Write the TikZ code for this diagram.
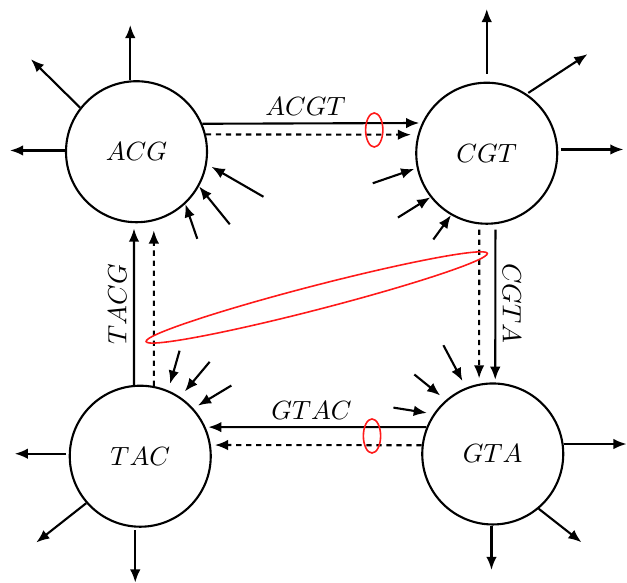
\documentclass[tikz,border=0pt]{standalone}
\usepackage{amsmath}
\usepackage{amssymb}
\usepackage{tikz}
\usetikzlibrary{arrows.meta}

\tikzset{
	kmer/.style={circle, draw, minimum size=1.88cm, inner sep=0pt},
	dashedge/.style={dash pattern=on 2pt off 1.8pt},
	seqlabel/.style={inner sep=2.5pt},
	ring/.style={draw=red!90!white, semithick}
}

\begin{document}
\begin{tikzpicture}[thick, >={Latex[length=5pt,width=4pt]}]
			\useasboundingbox (0,0) rectangle (8.36,7.773);
			\node[kmer] (acg) at (1.82,5.75) {$ACG$};
			\node[kmer] (cgt) at (6.49,5.73) {$CGT$};
			\node[kmer] (tac) at (1.87,1.69) {$TAC$};
			\node[kmer] (gta) at (6.57,1.72) {$GTA$};
			\draw[->, shorten >=1pt] (acg.23) -- (cgt.155) node[seqlabel, pos=0.47, above] {$ACGT$};
			\draw[->, dashedge, shorten >=2.5pt] (acg.14) -- (cgt.165);
			\draw[->, shorten <=2pt, shorten >=1pt] (cgt.277) -- (gta.88) node[seqlabel, midway, anchor=south, rotate=-90] {$CGTA$};
			\draw[->, dashedge, shorten <=2pt, shorten >=2pt] (cgt.264) -- (gta.101);
			\draw[->, shorten >=1pt] (gta.158) -- (tac.24) node[seqlabel, pos=0.52, above] {$GTAC$};
			\draw[->, dashedge, shorten >=1.5pt] (gta.173) -- (tac.9);
			\draw[->, shorten >=2pt] (tac.95) -- (acg.268) node[seqlabel, midway, anchor=south, rotate=90] {$TACG$};
			\draw[->, dashedge, shorten >=3.5pt] (tac.79) -- (acg.284);
			\draw[->] (acg.95) -- ++(0,0.74);
			\draw[->] (acg.142) -- ++(-0.656,0.647);
			\draw[->] (acg.179) -- ++(-0.733,0);
			\draw[<-, shorten <=2pt] (acg.350) -- ++(-30:0.87);
			\draw[<-] (acg.331) -- ++(-51:0.65);
			\draw[<-] (acg.313) -- ++(-71:0.49);
			\draw[->, shorten <=3pt] (cgt.90) -- ++(0,0.97);
			\draw[->, shorten <=0.7pt] (cgt.56) -- ++(0.81,0.53);
			\draw[->, shorten <=1pt] (cgt.3) -- ++(0.87,0);
			\draw[<-, shorten <=1pt] (cgt.192) -- ++(199:0.62);
			\draw[<-] (cgt.218) -- ++(212:0.51);
			\draw[<-] (cgt.240) -- ++(234:0.40);
			\draw[->, shorten <=1pt] (tac.178) -- ++(-0.72,0);
			\draw[->] (tac.221) -- ++(-0.667,-0.525);
			\draw[->, shorten <=1pt] (tac.266) -- ++(0,-0.733);
			\draw[<-, shorten <=2.6pt] (tac.67) -- ++(74:0.55);
			\draw[<-, shorten <=2.7pt] (tac.56) -- ++(50:0.61);
			\draw[<-, shorten <=2pt] (tac.42) -- ++(31:0.59);
			\draw[->] (gta.8) -- ++(0.84,0);
			\draw[->] (gta.310) -- ++(0.57,-0.447);
			\draw[->] (gta.269) -- ++(0,-0.593);
			\draw[<-, shorten <=2.5pt] (gta.146) -- ++(171:0.54);
			\draw[<-, shorten <=2.7pt] (gta.131) -- ++(141:0.54);
			\draw[<-, shorten <=2.8pt] (gta.112) -- ++(118:0.64);
			\draw[ring] (4.99,6.04) ellipse (0.115 and 0.227);
			\draw[ring] (4.96,1.96) ellipse (0.115 and 0.227);
			\draw[ring, rotate around={14.5:(4.223,3.807)}] (4.223,3.807) ellipse (2.35 and 0.16);
		\end{tikzpicture}
\end{document}
